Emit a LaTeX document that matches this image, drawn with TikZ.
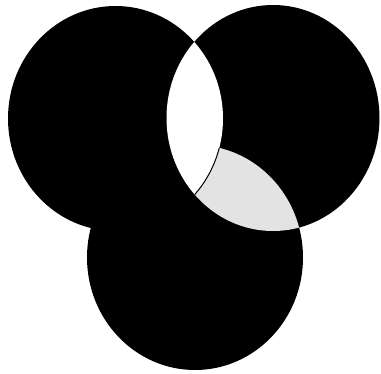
\documentclass[tikz,border=0pt]{standalone}
\begin{document}
\begin{tikzpicture}[x=1pt,y=-1pt]
\def\circA{(115.5,118.5) ellipse [x radius=107.5pt, y radius=112.5pt]}
\def\circB{(273,118) ellipse [x radius=106.5pt, y radius=113pt]}
\def\circC{(195,257.5) ellipse [x radius=108pt, y radius=112.5pt]}
\fill[white] (0,0) rectangle (381,373);
\useasboundingbox (0,0) rectangle (381,373);
% three discs
\fill[black] \circA;
\fill[black] \circB;
\fill[black] \circC;
% A and B overlap: white
\begin{scope}
  \clip \circA;
  \fill[white] \circB;
\end{scope}
% B and C overlap outside A: speckled light
\begin{scope}
  \clip \circB;
  \clip \circC;
  \fill[black!11, even odd rule] (-10,-10) rectangle (400,400) \circA;
  \draw[black, line width=1pt] \circA;
\end{scope}
\end{tikzpicture}
\end{document}
